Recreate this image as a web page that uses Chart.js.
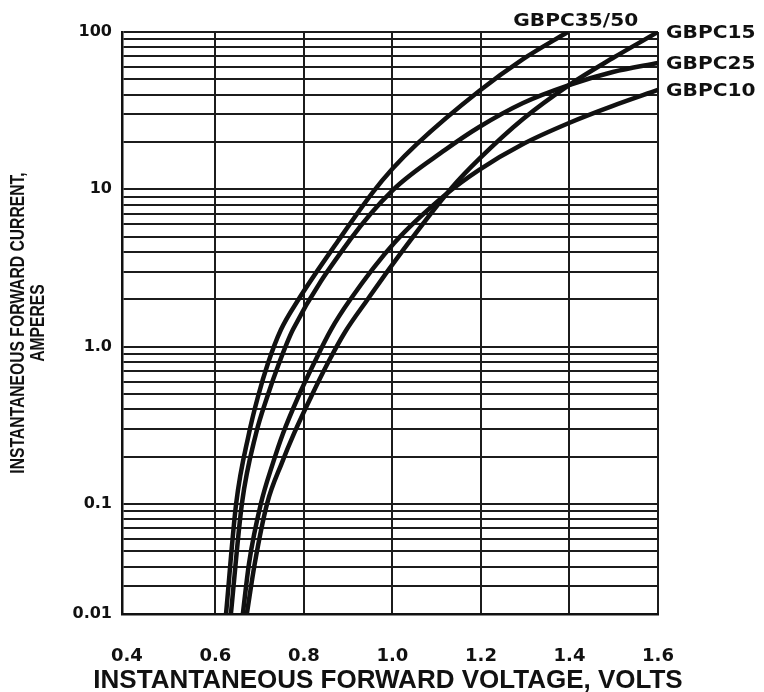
<!DOCTYPE html>
<html>
<head>
<meta charset="utf-8">
<script src="https://cdn.jsdelivr.net/npm/chart.js@4.4.1/dist/chart.umd.min.js"></script>
<style>
  html, body { margin: 0; padding: 0; background: #ffffff; }
  #wrap { width: 764px; height: 692px; }
</style>
</head>
<body>
<div id="wrap"><canvas id="chart" width="764" height="692"></canvas></div>
<script>
// ---- data ----
const seriesNames = ['GBPC35/50', 'GBPC15', 'GBPC25', 'GBPC10'];

// forward voltage (V) / forward current (A) pairs for each curve
const gbpc3550Volts = [0.624, 0.647, 0.676, 0.696, 0.719, 0.748, 0.787, 0.877, 0.956, 1.001, 1.055, 1.196, 1.295, 1.396];
const gbpc3550Amps  = [0.02, 0.101, 0.282, 0.479, 0.787, 1.28, 1.98, 4.69, 9.6, 13.6, 19.4, 42.2, 67.3, 100];

const gbpc15Volts = [0.671, 0.689, 0.717, 0.750, 0.778, 0.816, 0.854, 0.893, 0.943, 1.004, 1.135, 1.196, 1.295, 1.399, 1.498, 1.6];
const gbpc15Amps  = [0.02, 0.042, 0.101, 0.182, 0.282, 0.479, 0.787, 1.24, 1.98, 3.45, 10.3, 15.6, 28.0, 46.0, 68.3, 100];

const gbpc25Volts = [0.635, 0.660, 0.692, 0.717, 0.744, 0.775, 0.904, 1.001, 1.119, 1.196, 1.295, 1.399, 1.498, 1.6];
const gbpc25Amps  = [0.02, 0.101, 0.282, 0.479, 0.787, 1.28, 4.77, 9.9, 17.8, 24.9, 35.4, 46.0, 55.7, 63.6];

const gbpc10Volts = [0.662, 0.676, 0.703, 0.730, 0.753, 0.787, 0.823, 0.861, 0.904, 1.004, 1.119, 1.196, 1.295, 1.399, 1.498, 1.6];
const gbpc10Amps  = [0.02, 0.042, 0.101, 0.182, 0.282, 0.479, 0.787, 1.28, 1.98, 4.56, 9.2, 13.3, 19.4, 26.4, 33.9, 42.8];

// axes
const xMin = 0.389;  // the printed frame starts a little left of the 0.4 position
const xMax = 1.6;
const xTickValues = [0.4, 0.6, 0.8, 1.0, 1.2, 1.4, 1.6];
const xTickLabels = ['0.4', '0.6', '0.8', '1.0', '1.2', '1.4', '1.6'];
const yMin = 0.02;   // the printed grid ends at the 0.02 line; the datasheet labels that edge "0.01"
const yMax = 100;
const yDecades = [0.01, 0.1, 1, 10];
const yMantissas = [1, 2, 3, 4, 5, 6, 7, 8, 9];
const yLabelValues = [100, 10, 1, 0.1, 0.02];
const yLabelTexts  = ['100', '10', '1.0', '0.1', '0.01'];

const xTitle = 'INSTANTANEOUS FORWARD VOLTAGE, VOLTS';
const yTitle = ['INSTANTANEOUS FORWARD CURRENT,', 'AMPERES'];

// ---- build ----
function pairs(xs, ys) { return xs.map((v, i) => ({ x: v, y: ys[i] })); }

const yGrid = [];
yDecades.forEach(d => yMantissas.forEach(m => {
  const v = +(d * m).toPrecision(6);
  if (v >= yMin - 1e-9 && v <= yMax) yGrid.push(v);
}));
yGrid.push(yMax);

const curveSets = [
  pairs(gbpc3550Volts, gbpc3550Amps),
  pairs(gbpc15Volts, gbpc15Amps),
  pairs(gbpc25Volts, gbpc25Amps),
  pairs(gbpc10Volts, gbpc10Amps)
];

const INK = '#111111';
const GRID = '#1c1c1c';

const textPlugin = {
  id: 'extraText',
  afterDatasetsDraw(chart) {
    const { ctx, chartArea, scales } = chart;
    ctx.save();
    ctx.fillStyle = INK;
    // series labels at the curve ends
    ctx.font = 'bold 18px "DejaVu Sans"';
    chart.data.datasets.forEach((ds, i) => {
      const last = ds.data[ds.data.length - 1];
      const px = scales.x.getPixelForValue(last.x);
      const py = scales.y.getPixelForValue(last.y);
      ctx.save();
      ctx.textBaseline = 'middle';
      if (i === 0) {
        ctx.textAlign = 'center';
        ctx.translate(px + 8, chartArea.top - 11);
      } else {
        ctx.textAlign = 'left';
        ctx.translate(chartArea.right + 8, py + 1);
      }
      ctx.scale(1.12, 1);
      ctx.fillText(ds.label, 0, 0);
      ctx.restore();
    });
    // x axis title
    ctx.font = 'bold 26px "Liberation Sans", Arial, sans-serif';
    ctx.textAlign = 'center';
    ctx.textBaseline = 'middle';
    ctx.fillText(xTitle, (chartArea.left + chartArea.right) / 2 - 2, chartArea.bottom + 67);
    // y axis title (two rotated lines)
    ctx.font = 'bold 16px "Liberation Sans", Arial, sans-serif';
    const yc = (chartArea.top + chartArea.bottom) / 2;
    yTitle.forEach((line, k) => {
      ctx.save();
      ctx.translate(18 + k * 20, yc);
      ctx.rotate(-Math.PI / 2);
      ctx.scale(0.98, 1.25);
      ctx.fillText(line, 0, 0);
      ctx.restore();
    });
    ctx.restore();
  }
};

new Chart(document.getElementById('chart'), {
  type: 'line',
  data: {
    datasets: curveSets.map((d, i) => ({
      label: seriesNames[i],
      data: d,
      borderColor: INK,
      borderWidth: 4.5,
      pointRadius: 0,
      fill: false,
      cubicInterpolationMode: 'monotone'
    }))
  },
  options: {
    responsive: false,
    animation: false,
    devicePixelRatio: 1,
    layout: { padding: { top: 32, right: 106, left: 0, bottom: 0 } },
    plugins: { legend: { display: false }, tooltip: { enabled: false } },
    scales: {
      x: {
        type: 'linear',
        min: xMin,
        max: xMax,
        afterBuildTicks: s => { s.ticks = xTickValues.map(v => ({ value: v })); },
        afterFit: s => { s.height = 78; },
        ticks: {
          autoSkip: false,
          maxRotation: 0,
          padding: 32,
          color: INK,
          font: { family: '"DejaVu Sans"', weight: 'bold', size: 18 },
          callback: (v, i) => xTickLabels[i]
        },
        grid: {
          color: c => (c.tick && Math.abs(c.tick.value - xTickValues[0]) < 1e-9) ? 'rgba(0,0,0,0)' : GRID,
          lineWidth: 2,
          drawTicks: false
        },
        border: { color: INK, width: 2.5 }
      },
      y: {
        type: 'logarithmic',
        min: yMin,
        max: yMax,
        afterBuildTicks: s => { s.ticks = yGrid.map(v => ({ value: v })); },
        afterFit: s => { s.width = 122; },
        ticks: {
          autoSkip: false,
          padding: 10,
          color: INK,
          font: { family: '"DejaVu Sans"', weight: 'bold', size: 16 },
          callback: (v) => {
            const k = yLabelValues.findIndex(t => Math.abs(Math.log10(t) - Math.log10(v)) < 1e-6);
            return k >= 0 ? yLabelTexts[k] : '';
          }
        },
        grid: { color: GRID, lineWidth: 2, drawTicks: false },
        border: { color: INK, width: 2.5 }
      }
    }
  },
  plugins: [textPlugin]
});
</script>
</body>
</html>
